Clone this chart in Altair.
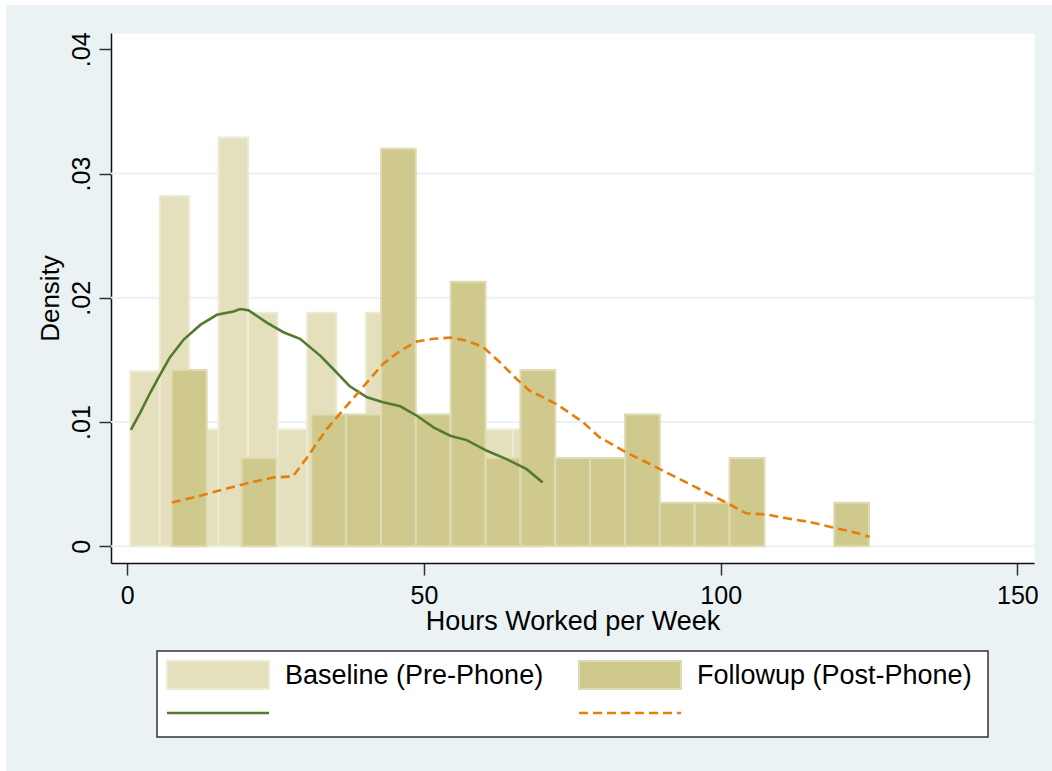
import altair as alt
import pandas as pd

# ---- histogram bins (hours worked per week) ----
base_start = 0.5
base_width = 4.964
base_density = [0.0141, 0.0282, 0.0094, 0.0329, 0.0188, 0.0094, 0.0188,
                0.0094, 0.0188, 0.0094, 0.0047, 0.0094, 0.0094, 0.0094]

follow_start = 7.5
follow_width = 5.875
follow_density = [0.0142, 0.0, 0.0071, 0.0, 0.0106, 0.0106, 0.0320, 0.0106,
                  0.0213, 0.0071, 0.0142, 0.0071, 0.0071, 0.0106, 0.0035,
                  0.0035, 0.0071, 0.0, 0.0, 0.0035]

# ---- kernel density curves ----
base_kde_hours = [0.6, 2.2, 3.9, 5.6, 7.2, 9.5, 12.3, 15.1, 17.9, 19.0, 20.4,
                  23.5, 26.3, 29.1, 32.5, 34.7, 37.5, 40.4, 43.1, 46.0, 48.8,
                  51.6, 54.4, 57.2, 60.6, 63.9, 67.3, 70.0]
base_kde_density = [0.00938, 0.01078, 0.0124, 0.01387, 0.01522, 0.01664,
                    0.01782, 0.01863, 0.0189, 0.0191, 0.0190, 0.0180, 0.01723,
                    0.0167, 0.01535, 0.01427, 0.01288, 0.01199, 0.01159,
                    0.01127, 0.01051, 0.00957, 0.0089, 0.00855, 0.00769,
                    0.00702, 0.00621, 0.00514]

follow_kde_hours = [7.5, 11.7, 16.8, 20.7, 24.6, 27.9, 30.3, 33.6, 37.0, 40.4,
                    43.1, 46.0, 48.8, 51.6, 54.4, 57.2, 60.0, 62.8, 65.6, 67.8,
                    70.1, 72.6, 76.8, 79.6, 84.1, 89.2, 94.8, 100.4, 104.3,
                    107.7, 111.1, 115.0, 118.9, 121.7, 125.1]
follow_kde_density = [0.00352, 0.00401, 0.00465, 0.00514, 0.00554, 0.00562,
                      0.00715, 0.00944, 0.01132, 0.0132, 0.01468, 0.01575,
                      0.01648, 0.0167, 0.0168, 0.01656, 0.01602, 0.01481,
                      0.01347, 0.01253, 0.01199, 0.01137, 0.00998, 0.00877,
                      0.00756, 0.00635, 0.0050, 0.00365, 0.00266, 0.00256,
                      0.00226, 0.00196, 0.00151, 0.00123, 0.00078]

series_names = ["Baseline (Pre-Phone)", "Followup (Post-Phone)"]
bar_fills = ["#E4E0BD", "#CFC98E"]
bar_strokes = ["#EEEBD4", "#DFDBB3"]
line_colors = ["#537A2E", "#E67E0A"]

x_ticks = [0, 50, 100, 150]
y_ticks = [0, 0.01, 0.02, 0.03, 0.04]
y_grid = [0, 0.01, 0.02, 0.03]

FONT = "Liberation Sans"
W, H = 923, 530
BG = "#EAF2F3"


def bins(start, width, dens, name):
    n = len(dens)
    return pd.DataFrame({
        "lo": [start + i * width for i in range(n)],
        "hi": [start + (i + 1) * width for i in range(n)],
        "density": dens,
        "series": [name] * n,
    })


base_bins = bins(base_start, base_width, base_density, series_names[0])
follow_bins = bins(follow_start, follow_width, follow_density, series_names[1])
base_kde = pd.DataFrame({"hours": base_kde_hours, "density": base_kde_density})
follow_kde = pd.DataFrame({"hours": follow_kde_hours, "density": follow_kde_density})
grid_df = pd.DataFrame({"g": y_grid})

x_scale = alt.Scale(domain=[-2.75, 152.8], nice=False, zero=False)
y_scale = alt.Scale(domain=[-0.00134, 0.04131], nice=False, zero=False)

x_axis = alt.Axis(
    title="Hours Worked per Week", values=x_ticks, grid=False,
    labelFont=FONT, labelFontSize=25, labelColor="black", labelPadding=8,
    tickSize=12, tickColor="#333333", tickWidth=1.5,
    domainColor="#111111", domainWidth=1.5,
    titleFont=FONT, titleFontSize=27, titleFontWeight="normal",
    titleColor="black", titlePadding=0,
)
y_axis = alt.Axis(
    title="Density", values=y_ticks, grid=False,
    labelExpr="datum.value == 0 ? '0' : replace(format(datum.value, '.2f'), '0.', '.')",
    labelAngle=270, labelAlign="center", labelBaseline="alphabetic",
    labelFont=FONT, labelFontSize=25, labelColor="black", labelPadding=10,
    tickSize=12, tickColor="#333333", tickWidth=1.5,
    domainColor="#111111", domainWidth=1.5,
    titleFont=FONT, titleFontSize=26, titleFontWeight="normal",
    titleColor="black", titlePadding=6,
)


def xq(field):
    return alt.X(field, type="quantitative", scale=x_scale, axis=x_axis)


def yq(field):
    return alt.Y(field, type="quantitative", scale=y_scale, axis=y_axis)


grid = alt.Chart(grid_df).mark_rule(color=BG, strokeWidth=2).encode(y=yq("g"))

# empty bins are not drawn
bars_base = alt.Chart(base_bins).transform_filter("datum.density > 0").mark_rect(
    fill=bar_fills[0], stroke=bar_strokes[0], strokeWidth=2
).encode(x=xq("lo"), x2="hi", y=yq("density"), y2=alt.datum(0))

bars_follow = alt.Chart(follow_bins).transform_filter("datum.density > 0").mark_rect(
    fill=bar_fills[1], stroke=bar_strokes[1], strokeWidth=2
).encode(x=xq("lo"), x2="hi", y=yq("density"), y2=alt.datum(0))

line_base = alt.Chart(base_kde).mark_line(
    color=line_colors[0], strokeWidth=2.6
).encode(x=xq("hours"), y=yq("density"))

line_follow = alt.Chart(follow_kde).mark_line(
    color=line_colors[1], strokeWidth=2.6, strokeDash=[9, 5]
).encode(x=xq("hours"), y=yq("density"))

# ---- thin white frame on top/left of the graph region ----
one = pd.DataFrame({"k": [0]})
frame_top = alt.Chart(one).mark_rect(color="white").encode(
    x=alt.value(-111), x2=alt.value(W + 30), y=alt.value(-33), y2=alt.value(-28))
frame_left = alt.Chart(one).mark_rect(color="white").encode(
    x=alt.value(-111), x2=alt.value(-105), y=alt.value(-33), y2=alt.value(H + 220))

# ---- legend (two columns: histogram swatch + label, density line key) ----
legend_box = alt.Chart(one).mark_rect(
    fill="white", stroke="#333333", strokeWidth=1.5
).encode(x=alt.value(46), x2=alt.value(877), y=alt.value(618), y2=alt.value(704))

legend_layers = [legend_box]
col_x = [56, 468]
for i, name in enumerate(series_names):
    lx = col_x[i]
    legend_layers.append(
        alt.Chart(one).mark_rect(fill=bar_fills[i], stroke=bar_strokes[i], strokeWidth=2)
        .encode(x=alt.value(lx), x2=alt.value(lx + 102), y=alt.value(628), y2=alt.value(656))
    )
    legend_layers.append(
        alt.Chart(pd.DataFrame({"label": [name]})).mark_text(
            font=FONT, fontSize=27, color="black", align="left", baseline="middle"
        ).encode(x=alt.value(lx + 118), y=alt.value(643), text="label:N")
    )
    dash = {"strokeDash": [9, 5]} if i == 1 else {}
    legend_layers.append(
        alt.Chart(one).mark_rule(color=line_colors[i], strokeWidth=2.6, **dash)
        .encode(x=alt.value(lx), x2=alt.value(lx + 102), y=alt.value(680))
    )

chart = alt.layer(
    frame_top, frame_left, grid, bars_base, bars_follow, line_base, line_follow,
    *legend_layers
).properties(
    width=W, height=H,
    autosize=alt.AutoSizeParams(type="none"),
    padding={"left": 111, "top": 33, "right": 18, "bottom": 208},
    background=BG,
).configure_view(fill="white", stroke="transparent")

chart.save("out.html", embed_options={"renderer": "svg", "actions": False})
